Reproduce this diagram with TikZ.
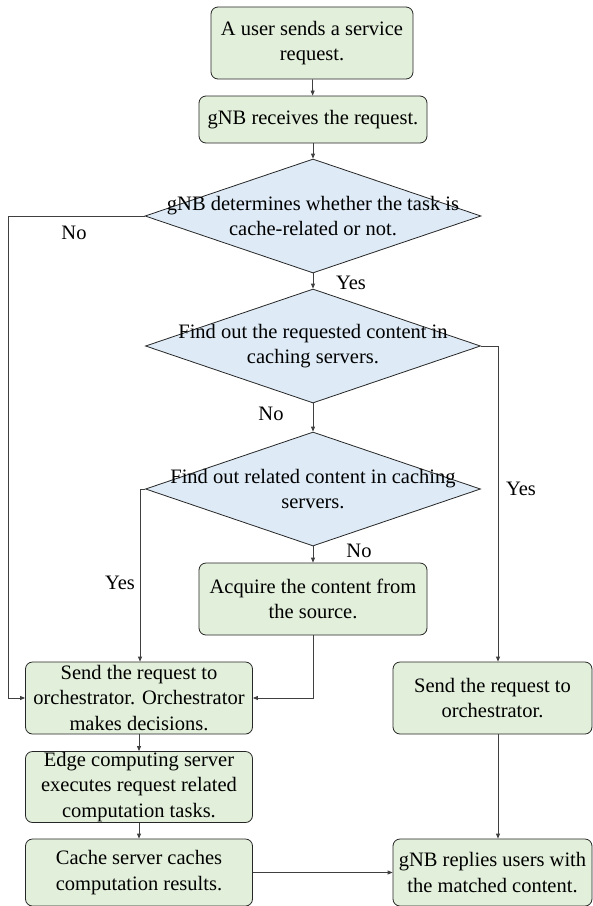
\documentclass[tikz,border=0pt]{standalone}
\usepackage{fontspec}
\setmainfont{Liberation Serif}
\newfontfamily\figfont{Liberation Serif}
\usetikzlibrary{shapes.geometric,arrows.meta}
\definecolor{boxgreen}{RGB}{226,239,218}
\definecolor{boxblue}{RGB}{222,235,247}
\definecolor{linegray}{RGB}{64,64,64}
\tikzset{
  every node/.style={font=\figfont\fontsize{20.5}{25.5}\selectfont},
  procbox/.style={draw=black!85, line width=0.8pt, fill=boxgreen, rounded corners=7pt,
    align=center, inner sep=0pt},
  decbox/.style={draw=black!85, line width=0.8pt, fill=boxblue, shape=diamond,
    inner sep=0pt},
  dectext/.style={align=center, inner sep=0pt},
  lbl/.style={inner sep=0pt},
  arr/.style={draw=linegray, line width=0.8pt, -{Triangle[length=5pt,width=4pt]}}
}
\begin{document}
\begin{tikzpicture}[x=1pt,y=-1pt]
\useasboundingbox (0,0) rectangle (593,906);
\fill[white] (0,0) rectangle (593,906);

\node[procbox, minimum width=202pt, minimum height=72pt] (b1) at (312,43) {A user sends a service\\request.};
\node[procbox, minimum width=228pt, minimum height=47pt] (b2) at (313,119.5) {gNB receives the request.};

\node[decbox, minimum width=336pt, minimum height=114pt] (d1) at (313,216) {};
\node[dectext] (d1t) at (313,216) {gNB determines whether the task is\\cache-related or not.};

\node[decbox, minimum width=335pt, minimum height=114pt] (d2) at (313,346) {};
\node[dectext] (d2t) at (313,346) {Find out the requested content in\\caching servers.};

\node[decbox, minimum width=335pt, minimum height=114pt] (d3) at (313,489) {};
\node[dectext] (d3t) at (313,489) {Find out related content in caching\\servers.};

\node[procbox, minimum width=228pt, minimum height=72pt] (acq) at (313,599) {Acquire the content from\\the source.};

\node[procbox, minimum width=227pt, minimum height=72pt] (orch) at (139,698) {Send the request to\\orchestrator. Orchestrator\\makes decisions.};
\node[procbox, minimum width=227pt, minimum height=71pt] (edge) at (139,787) {Edge computing server\\executes request related\\computation tasks.};
\node[procbox, minimum width=227pt, minimum height=67pt] (cache) at (139,872.5) {Cache server caches\\computation results.};

\node[procbox, minimum width=199pt, minimum height=72pt] (r1) at (492.5,698) {Send the request to\\orchestrator.};
\node[procbox, minimum width=199pt, minimum height=67pt] (reply) at (492.5,872.5) {gNB replies users with\\the matched content.};

% connectors
\draw[arr] (b1) -- (b2);
\draw[arr] (b2) -- (d1.north);
\draw[arr] (d1.south) -- (d2.north);
\draw[arr] (d2.south) -- (d3.north);
\draw[arr] (d3.south) -- (acq.north);
\draw[arr] (d1.west) -- ++(-136,0) |- (orch.west);
\draw[arr] (d3.west) -| ([xshift=1pt]orch.north);
\draw[arr] (acq.south) |- (orch.east);
\draw[arr] (d2.east) -| ([xshift=5.5pt]r1.north);
\draw[arr] ([xshift=5.5pt]r1.south) -- ([xshift=5.5pt]reply.north);
\draw[arr] (orch) -- (edge);
\draw[arr] (edge) -- (cache);
\draw[arr] (cache) -- (reply);

% labels
\node[lbl] (l1) at (74,233) {No};
\node[lbl] (l2) at (351,283) {Yes};
\node[lbl] (l3) at (271,414) {No};
\node[lbl] (l4) at (521,489) {Yes};
\node[lbl] (l5) at (120,583) {Yes};
\node[lbl] (l6) at (359,551) {No};
\end{tikzpicture}
\end{document}
